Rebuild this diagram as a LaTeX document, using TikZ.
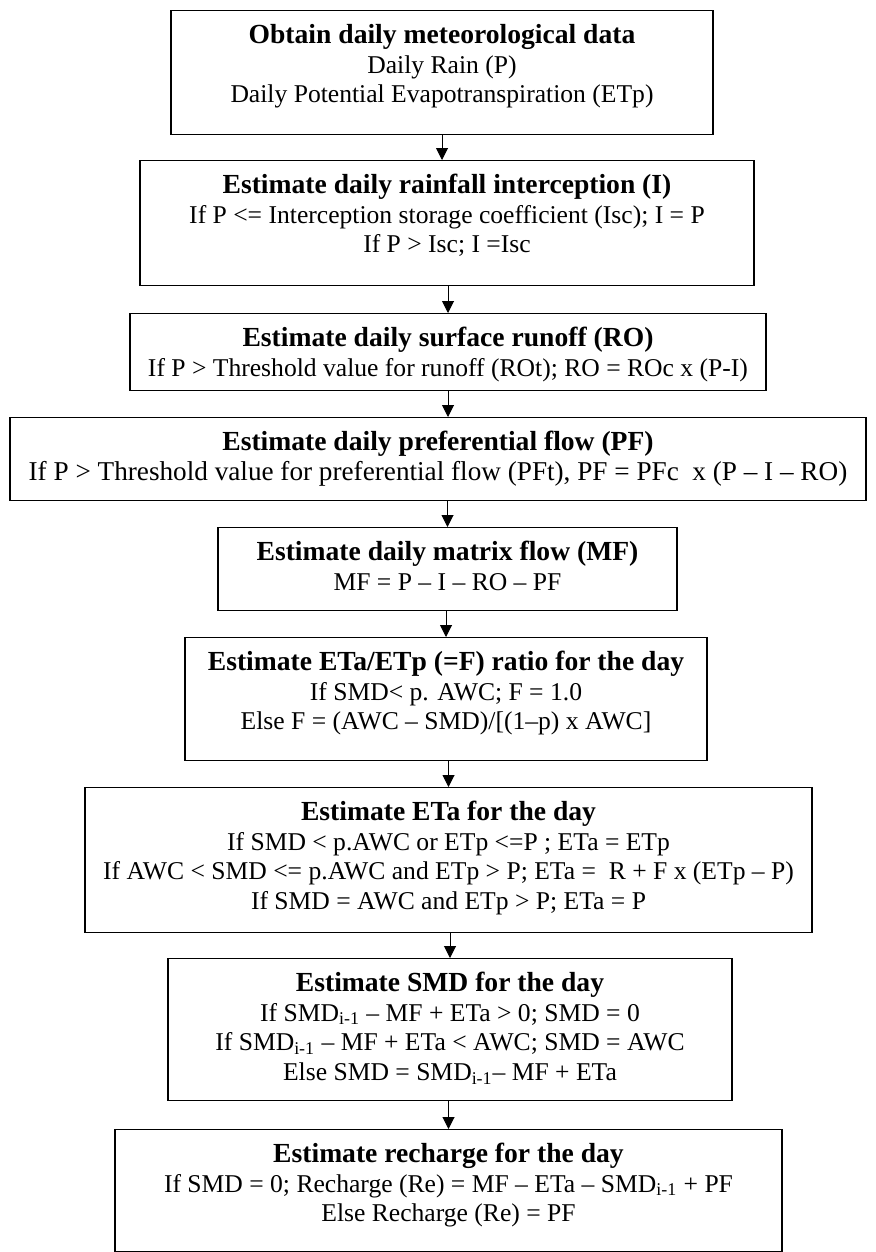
\documentclass[tikz,border=0pt]{standalone}
\usepackage{fontspec}
\setmainfont{Liberation Serif}
\usetikzlibrary{arrows.meta}

\newcommand{\boxrows}[1]{\begin{tabular}[t]{@{}c@{}}#1\end{tabular}}
\newcommand{\boxtitle}[1]{{\fontsize{13.8}{14.8}\selectfont\bfseries #1}}

\begin{document}
\begin{tikzpicture}[x=0.5pt, y=-0.5pt]
    \tikzset{
        flowbox/.style={
            draw, line width=0.6pt, anchor=north, inner sep=0pt,
            font=\fontsize{12.8}{14.8}\selectfont, text height=16.5pt,
        },
        flowarrow/.style={
            -{Triangle[width=6pt, length=6pt]}, line width=0.5pt,
        },
    }
    \useasboundingbox (0,0) rectangle (875,1252);

    % Boxes
    \node[flowbox, minimum width=271pt, text depth=45.5pt] (obtain) at (442,10) {\boxrows{
        \boxtitle{Obtain daily meteorological data}\\
        Daily Rain (P)\\
        Daily Potential Evapotranspiration (ETp)}};
    \node[flowbox, minimum width=307pt, text depth=46pt] (intercept) at (447,160) {\boxrows{
        \boxtitle{Estimate daily rainfall interception (I)}\\
        If P <= Interception storage coefficient (Isc); I = P\\
        If P > Isc; I =Isc}};
    \node[flowbox, minimum width=318pt, text depth=22pt] (runoff) at (448,313) {\boxrows{
        \boxtitle{Estimate daily surface runoff (RO)}\\
        If P > Threshold value for runoff (ROt); RO = ROc x (P-I)}};
    \node[flowbox, minimum width=428pt, text depth=25pt] (prefflow) at (438,417) {\boxrows{
        \boxtitle{Estimate daily preferential flow (PF)}\\
        {\fontsize{13.6}{14.8}\selectfont If P > Threshold value for preferential flow (PFt), PF = PFc~ x (P – I – RO)}}};
    \node[flowbox, minimum width=229.5pt, text depth=25pt] (matrixflow) at (447.5,527) {\boxrows{
        \boxtitle{Estimate daily matrix flow (MF)}\\
        MF = P – I – RO – PF}};
    \node[flowbox, minimum width=261pt, text depth=45pt] (ratio) at (446,637) {\boxrows{
        \boxtitle{Estimate ETa/ETp (=F) ratio for the day}\\
        If SMD< p. AWC; F = 1.0\\
        Else F = (AWC – SMD)/[(1–p) x AWC]}};
    \node[flowbox, minimum width=363.5pt, text depth=56pt] (eta) at (448.5,787) {\boxrows{
        \boxtitle{Estimate ETa for the day}\\
        If SMD < p.AWC or ETp <=P ; ETa = ETp\\
        If AWC < SMD <= p.AWC and ETp > P; ETa =~ R + F x (ETp – P)\\
        If SMD = AWC and ETp > P; ETa = P}};
    \node[flowbox, minimum width=282pt, text depth=54.5pt] (smd) at (450,958) {\boxrows{
        \boxtitle{Estimate SMD for the day}\\
        If SMD\textsubscript{i-1} – MF + ETa > 0; SMD = 0\\
        If SMD\textsubscript{i-1} – MF + ETa < AWC; SMD = AWC\\
        Else SMD = SMD\textsubscript{i-1}– MF + ETa}};
    \node[flowbox, minimum width=333.5pt, text depth=44.5pt] (recharge) at (448.5,1129) {\boxrows{
        \boxtitle{Estimate recharge for the day}\\
        If SMD = 0; Recharge (Re) = MF – ETa – SMD\textsubscript{i-1} + PF\\
        Else Recharge (Re) = PF}};

    % Arrows (last name gives the x of the arrow)
    \foreach \from/\to/\col in {obtain/intercept/obtain, intercept/runoff/runoff,
            runoff/prefflow/runoff, prefflow/matrixflow/matrixflow,
            matrixflow/ratio/ratio, ratio/eta/eta, eta/smd/smd, smd/recharge/recharge}
        \draw[flowarrow] (\from.south -| \col.north) -- (\to.north -| \col.north);

\end{tikzpicture}
\end{document}
